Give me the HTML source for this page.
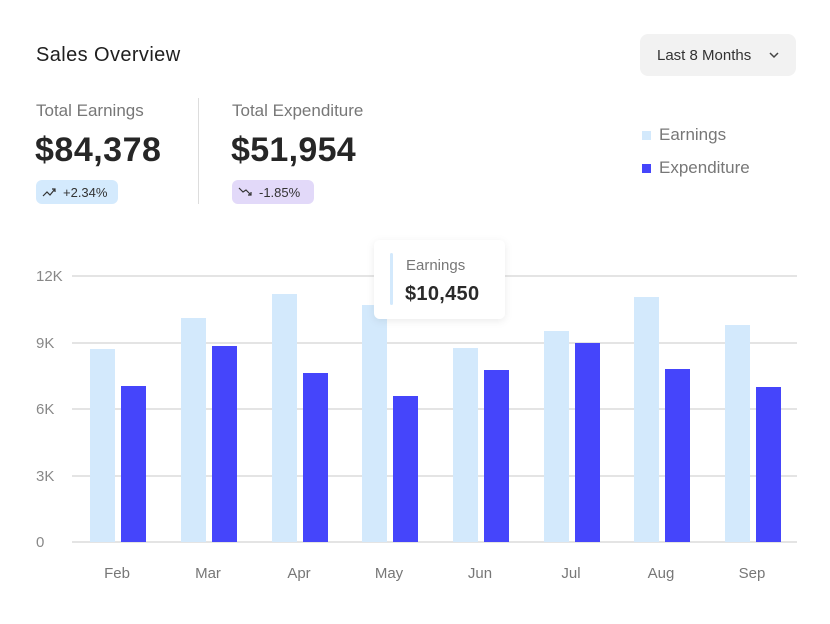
<!DOCTYPE html>
<html><head><style>
body{margin:0;width:830px;height:624px;background:#fff;font-family:"Liberation Sans",sans-serif;position:relative;overflow:hidden;color:#222}
.a{position:absolute;white-space:nowrap}
</style></head><body>
<div class="a" style="left:36px;top:44px;font-size:20px;color:#1f1f1f;letter-spacing:0.4px">Sales Overview</div>
<div class="a" style="left:640px;top:34px;width:156px;height:42px;background:#f2f2f2;border-radius:8px"></div>
<div class="a" style="left:657px;top:47px;font-size:15px;color:#333">Last 8 Months</div>
<svg class="a" style="left:768px;top:50px" width="12" height="10"><path d="M2 3l4 4 4-4" stroke="#444" stroke-width="1.5" fill="none"/></svg>
<div class="a" style="left:36px;top:101px;font-size:17px;color:#777">Total Earnings</div>
<div class="a" style="left:35px;top:131px;font-size:34px;font-weight:bold;color:#262626;letter-spacing:0.5px">$84,378</div>
<div class="a" style="left:36px;top:180px;width:82px;height:24px;background:#d4eafd;border-radius:6px"></div>
<svg class="a" style="left:42px;top:186px" width="14" height="12"><path d="M1 10l4-4 3 3 5-6M10 3h3v3" stroke="#333" stroke-width="1.2" fill="none"/></svg>
<div class="a" style="left:63px;top:185px;font-size:13px;color:#333">+2.34%</div>
<div class="a" style="left:198px;top:98px;width:1px;height:106px;background:#ddd"></div>
<div class="a" style="left:232px;top:101px;font-size:17px;color:#777">Total Expenditure</div>
<div class="a" style="left:231px;top:131px;font-size:34px;font-weight:bold;color:#262626;letter-spacing:0.3px">$51,954</div>
<div class="a" style="left:232px;top:180px;width:82px;height:24px;background:#e2d9f9;border-radius:6px"></div>
<svg class="a" style="left:238px;top:186px" width="16" height="12"><path d="M1 2l4 4 3-2 5 5M13 6v3h-3" stroke="#333" stroke-width="1.2" fill="none"/></svg>
<div class="a" style="left:259px;top:185px;font-size:13px;color:#333">-1.85%</div>
<div class="a" style="left:642px;top:131px;width:9px;height:9px;background:#d3e9fc"></div>
<div class="a" style="left:659px;top:125px;font-size:17px;color:#777">Earnings</div>
<div class="a" style="left:642px;top:164px;width:9px;height:9px;background:#4545fb"></div>
<div class="a" style="left:659px;top:158px;font-size:17px;color:#777">Expenditure</div>
<svg class="a" style="left:0;top:0" width="830" height="624" font-family="Liberation Sans,sans-serif">
<g stroke="#dcdcdc" stroke-width="1.5">
<line x1="72" x2="797" y1="276" y2="276"/><line x1="72" x2="797" y1="343" y2="343"/><line x1="72" x2="797" y1="409" y2="409"/><line x1="72" x2="797" y1="476" y2="476"/><line x1="72" x2="797" y1="542" y2="542"/></g>
<g fill="#888" font-size="15">
<text x="36" y="281">12K</text><text x="36" y="348">9K</text><text x="36" y="414">6K</text><text x="36" y="481">3K</text><text x="36" y="547">0</text></g>
<g fill="#d3e9fc">
<rect x="90" y="349" width="25" height="193"/><rect x="181" y="318" width="25" height="224"/><rect x="272" y="294" width="25" height="248"/><rect x="362" y="305" width="25" height="237"/><rect x="453" y="348" width="25" height="194"/><rect x="544" y="331" width="25" height="211"/><rect x="634" y="297" width="25" height="245"/><rect x="725" y="325" width="25" height="217"/></g>
<g fill="#4545fb">
<rect x="121" y="386" width="25" height="156"/><rect x="212" y="346" width="25" height="196"/><rect x="303" y="373" width="25" height="169"/><rect x="393" y="396" width="25" height="146"/><rect x="484" y="370" width="25" height="172"/><rect x="575" y="343" width="25" height="199"/><rect x="665" y="369" width="25" height="173"/><rect x="756" y="387" width="25" height="155"/></g>
<g fill="#777" font-size="15" text-anchor="middle">
<text x="117" y="578">Feb</text><text x="208" y="578">Mar</text><text x="299" y="578">Apr</text><text x="389" y="578">May</text><text x="480" y="578">Jun</text><text x="571" y="578">Jul</text><text x="661" y="578">Aug</text><text x="752" y="578">Sep</text></g>
<defs><filter id="s" x="-20%" y="-20%" width="140%" height="150%"><feDropShadow dx="0" dy="2" stdDeviation="4" flood-opacity="0.08"/></filter></defs>
<rect x="374" y="240" width="131" height="79" rx="6" fill="#fff" filter="url(#s)"/>
<rect x="390" y="253" width="3" height="52" rx="1.5" fill="#d3e9fc"/>
<text x="406" y="270" font-size="15" fill="#777">Earnings</text>
<text x="405" y="300" font-size="20" font-weight="bold" fill="#2a2a2a" letter-spacing="0.3">$10,450</text>
</svg>
</body></html>
